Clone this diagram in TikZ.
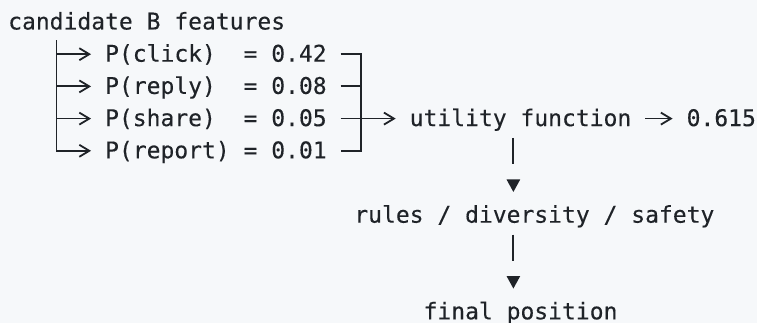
\documentclass[tikz,border=0pt]{standalone}
\usepackage{fontspec}
\newfontfamily\codefont[FakeBold=0.25]{DejaVu Sans Mono}
\usetikzlibrary{arrows.meta}
\definecolor{ink}{HTML}{1F2328}
\definecolor{paper}{HTML}{F6F8FA}
\begin{document}
\begin{tikzpicture}[x=1pt,y=-1pt,
  % every label sits on a 13.846pt x 32.2pt character grid
  txt/.style={inner sep=0pt, anchor=base west, text height=21.5pt, text depth=6.5pt,
    font=\codefont\fontsize{23}{27}\selectfont, text=ink},
  wire/.style={draw=ink, line width=1.8pt, line join=miter},
  chev/.style={wire, -{Straight Barb[length=10pt,width=12pt,line width=1.8pt]}, shorten >=13.85pt},
  drop/.style={draw=ink, line width=1.8pt, -{Triangle[length=12.5pt,width=13.2pt]},
    dash pattern=on 26pt off 40pt, shorten <=5.2pt, shorten >=9pt}
]
\useasboundingbox (0,0) rectangle (757,323);
\fill[paper] (0,0) rectangle (757,323);

% labels
\node[txt] (cand)  at ({8+0*13.846},{29.5+0*32.2}) {candidate B features};
\node[txt] (p1)    at ({8+7*13.846},{29.5+1*32.2}) {P(click)~~= 0.42};
\node[txt] (p2)    at ({8+7*13.846},{29.5+2*32.2}) {P(reply)~~= 0.08};
\node[txt] (p3)    at ({8+7*13.846},{29.5+3*32.2}) {P(share)~~= 0.05};
\node[txt] (p4)    at ({8+7*13.846},{29.5+4*32.2}) {P(report) = 0.01};
\node[txt] (util)  at ({8+29*13.846},{29.5+3*32.2}) {utility function};
\node[txt] (score) at ({8+49*13.846},{29.5+3*32.2}) {0.615};
\node[txt] (rules) at ({8+25*13.846},{29.5+6*32.2}) {rules / diversity / safety};
\node[txt] (final) at ({8+30*13.846},{29.5+9*32.2}) {final position};

% guide columns for the vertical runs
\coordinate (trunk) at ({8+3.5*13.846},0);
\coordinate (brk)   at ({8+25.5*13.846},0);
\coordinate (down)  at ({8+36.5*13.846},0);

% feature fan-out
\draw[chev, shorten <=4.2pt] (cand.south -| trunk) |- (p4);
\draw[chev] (p1.west -| trunk) -- (p1);
\draw[chev] (p2.west -| trunk) -- (p2);
\draw[chev] (p3.west -| trunk) -- (p3);

% probabilities gathered into the utility function
\draw[wire, shorten <=13.85pt, shorten >=13.85pt] (p1.east) -| (p4.east -| brk) -- (p4.east);
\draw[wire, shorten <=13.85pt] (p2.east) -- (p2.east -| brk);
\draw[chev, shorten <=13.85pt] (p3.east) -- (util);
\draw[chev, shorten <=13.85pt] (util) -- (score);

% ranking steps
\draw[drop] (util.south -| down) -- (rules.north -| down);
\draw[drop] (rules.south -| down) -- (final.north -| down);
\end{tikzpicture}
\end{document}
